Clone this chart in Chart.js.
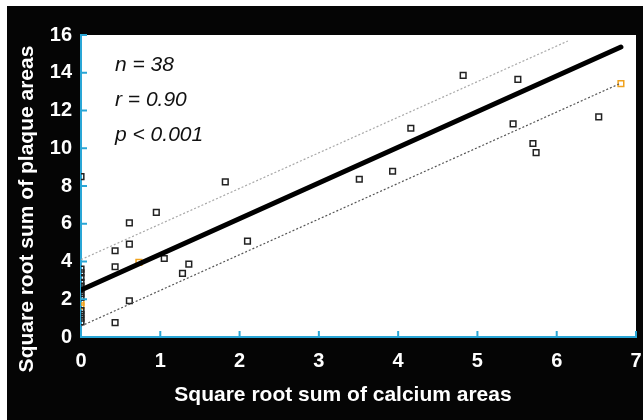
<!DOCTYPE html>
<html>
<head>
<meta charset="utf-8">
<script src="https://cdn.jsdelivr.net/npm/chart.js@4"></script>
<style>
    html, body { margin: 0; padding: 0; background: #fff; }
    #wrap { width: 643px; height: 420px; }
</style>
</head>
<body>
<div id="wrap"><canvas id="chart" width="643" height="420"></canvas></div>
<script>
// Patients (black squares)
const calciumX = [0, 0, 0, 0, 0, 0, 0, 0, 0, 0, 0, 0, 0,
    1.82, 0.95, 0.61, 0.43, 0.61, 0.43, 1.05, 1.28, 1.36, 2.10, 0.61, 0.43,
    4.82, 5.51, 6.53, 4.16, 5.45, 5.70, 5.74, 3.93, 3.51];
const plaqueY = [8.5, 3.6, 3.4, 3.15, 2.9, 2.7, 2.5, 2.3, 2.1, 1.4, 1.2, 1.0, 0.8,
    8.22, 6.6, 6.05, 4.57, 4.92, 3.72, 4.16, 3.37, 3.86, 5.08, 1.92, 0.76,
    13.86, 13.65, 11.66, 11.06, 11.29, 10.25, 9.77, 8.78, 8.36];

// highlighted (orange squares)
const orangeX = [0, 0, 0.73, 6.81];
const orangeY = [1.85, 1.65, 3.95, 13.42];

// regression line and bands (end points)
const fitX = [0, 6.81];
const fitY = [2.49, 15.36];
const upperX = [0, 6.14];
const upperY = [4.1, 15.68];
const lowerX = [0, 6.81];
const lowerY = [0.58, 13.45];

const xTicks = [0, 1, 2, 3, 4, 5, 6, 7];
const yTicks = [0, 2, 4, 6, 8, 10, 12, 14, 16];
const statsText = ['n = 38', 'r = 0.90', 'p < 0.001'];

const axisColor = '#2aa6d6';
const labelFont = { family: 'Liberation Sans, Arial, sans-serif', size: 20, weight: 'bold' };

function toPoints(xs, ys) {
    return xs.map((x, i) => ({ x: x, y: ys[i] }));
}

// black frame round the white plot area
const framePlugin = {
    id: 'frame',
    beforeDraw(chart) {
        const { ctx, chartArea } = chart;
        ctx.save();
        ctx.fillStyle = '#050505';
        ctx.fillRect(7, 6, chart.width - 7, chart.height - 6);
        ctx.fillStyle = '#ffffff';
        ctx.fillRect(chartArea.left, chartArea.top,
            chartArea.right - chartArea.left, chartArea.bottom - chartArea.top);
        ctx.restore();
    },
    afterDraw(chart) {
        const { ctx, chartArea, scales } = chart;
        ctx.save();
        // inward tick marks
        ctx.strokeStyle = axisColor;
        ctx.lineWidth = 2;
        yTicks.forEach(v => {
            const py = scales.y.getPixelForValue(v);
            ctx.beginPath();
            ctx.moveTo(chartArea.left, py);
            ctx.lineTo(chartArea.left + 6, py);
            ctx.stroke();
        });
        xTicks.forEach(v => {
            const px = scales.x.getPixelForValue(v);
            ctx.beginPath();
            ctx.moveTo(px, chartArea.bottom);
            ctx.lineTo(px, chartArea.bottom - 6);
            ctx.stroke();
        });

        // statistics
        ctx.fillStyle = '#111';
        ctx.font = 'italic 21px "Liberation Sans", Arial, sans-serif';
        ctx.textBaseline = 'middle';
        ctx.textAlign = 'left';
        statsText.forEach((t, i) => {
            ctx.fillText(t, 115, 65 + i * 35);
        });

        // axis titles
        ctx.fillStyle = '#fff';
        ctx.font = 'bold 21px "Liberation Sans", Arial, sans-serif';
        ctx.textAlign = 'center';
        ctx.fillText('Square root sum of calcium areas', 343, 395);
        ctx.translate(27, 209);
        ctx.rotate(-Math.PI / 2);
        ctx.fillText('Square root sum of plaque areas', 0, 0);
        ctx.restore();
    }
};

const ctx = document.getElementById('chart').getContext('2d');
new Chart(ctx, {
    type: 'scatter',
    data: {
        datasets: [
            {
                type: 'line',
                data: toPoints(upperX, upperY),
                borderColor: '#a8a8a8',
                borderWidth: 1.2,
                borderDash: [2, 2],
                pointRadius: 0,
                fill: false
            },
            {
                type: 'line',
                data: toPoints(lowerX, lowerY),
                borderColor: '#555',
                borderWidth: 1.2,
                borderDash: [2, 2],
                pointRadius: 0,
                fill: false
            },
            {
                type: 'line',
                data: toPoints(fitX, fitY),
                borderColor: '#000',
                borderWidth: 5,
                borderCapStyle: 'round',
                pointRadius: 0,
                fill: false
            },
            {
                data: toPoints(calciumX, plaqueY),
                pointStyle: 'rect',
                pointRadius: 4,
                borderColor: '#222',
                borderWidth: 1.5,
                backgroundColor: 'rgba(0,0,0,0)'
            },
            {
                data: toPoints(orangeX, orangeY),
                pointStyle: 'rect',
                pointRadius: 4,
                borderColor: '#f0a21e',
                borderWidth: 1.5,
                backgroundColor: 'rgba(0,0,0,0)'
            }
        ]
    },
    plugins: [framePlugin],
    options: {
        responsive: false,
        animation: false,
        layout: {
            padding: { top: 35, right: 7, left: 0, bottom: 0 }
        },
        scales: {
            x: {
                min: 0,
                max: 7,
                afterFit(scale) {
                    scale.height = 83;
                    scale.paddingLeft = 0;
                    scale.paddingRight = 0;
                },
                afterBuildTicks(scale) { scale.ticks = xTicks.map(v => ({ value: v })); },
                grid: { display: false, drawTicks: false },
                border: { color: axisColor, width: 2 },
                ticks: { color: '#fff', font: labelFont, padding: 12 }
            },
            y: {
                min: 0,
                max: 16,
                afterFit(scale) {
                    scale.width = 81;
                    scale.paddingTop = 0;
                    scale.paddingBottom = 0;
                },
                afterBuildTicks(scale) { scale.ticks = yTicks.map(v => ({ value: v })); },
                grid: { display: false, drawTicks: false },
                border: { color: axisColor, width: 2 },
                ticks: { color: '#fff', font: labelFont, padding: 9 }
            }
        },
        plugins: {
            legend: { display: false },
            tooltip: { enabled: false }
        }
    }
});
</script>
</body>
</html>
